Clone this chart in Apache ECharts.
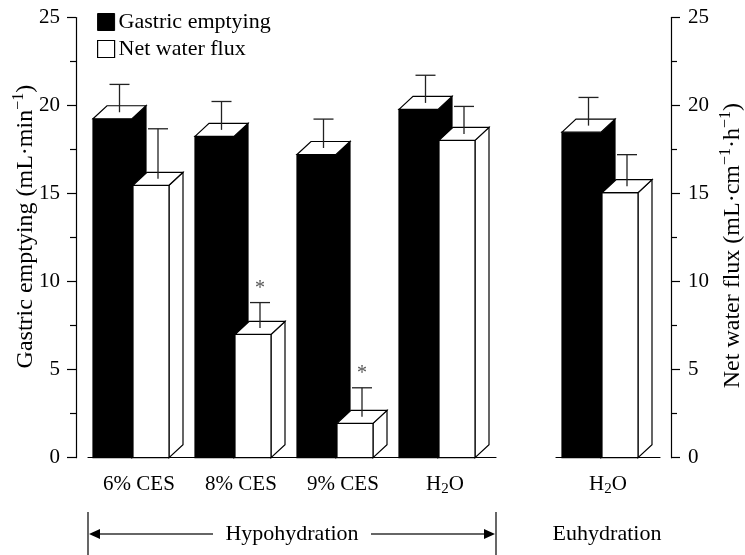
<!DOCTYPE html>
<html><head><meta charset="utf-8">
<script src="https://cdn.jsdelivr.net/npm/echarts@6/dist/echarts.min.js"></script>
<style>html,body{margin:0;padding:0;background:#fff}#c{width:745px;height:555px}</style>
</head><body><div id="c"></div>
<script>
// ---- data ----
const categoriesHypo = ['6% CES', '8% CES', '9% CES', 'H2O'];
const categoriesEu = ['H2O'];
const gastricHypo = [19.25, 18.25, 17.22, 19.78];
const gastricHypoErr = [1.95, 1.98, 2.01, 1.94];
const fluxHypo = [15.47, 7.0, 1.95, 18.02];
const fluxHypoErr = [3.21, 1.81, 2.02, 1.93];
const fluxHypoSig = [0, 1, 1, 0];
const gastricEu = [18.49];
const gastricEuErr = [1.97];
const fluxEu = [15.05];
const fluxEuErr = [2.16];
const fluxEuSig = [0];
const yMin = 0, yMax = 25, yStep = 5;
const groupLabels = ['Hypohydration', 'Euhydration'];

const FONT = 'Liberation Serif';
const chart = echarts.init(document.getElementById('c'));

function rows(vals, errs, sig) {
  return vals.map((v, i) => [i, v, errs[i], sig ? sig[i] : 0]);
}

function makeRender(kind) {
  return function (params, api) {
    const idx = api.value(0), v = api.value(1), se = api.value(2), sig = api.value(3);
    const base = api.coord([idx, 0]);
    const top = api.coord([idx, v]);
    const cap = api.coord([idx, v + se]);
    const c = base[0];
    const dx = 14, dy = 13;
    let x0, w;
    if (kind === 'ge') { x0 = c - 46; w = 39; } else { x0 = c - 6; w = 36; }
    const yb = base[1], yt = top[1];
    const fill = kind === 'ge' ? '#000' : '#fff';
    const st = { stroke: '#000', lineWidth: 1.2 };
    const ch = [];
    ch.push({ type: 'polygon', shape: { points: [[x0 + w, yb], [x0 + w, yt], [x0 + w + dx, yt - dy], [x0 + w + dx, yb - dy]] }, style: Object.assign({ fill }, st) });
    ch.push({ type: 'rect', shape: { x: x0, y: yt, width: w, height: yb - yt }, style: Object.assign({ fill }, st) });
    ch.push({ type: 'polygon', shape: { points: [[x0, yt], [x0 + dx, yt - dy], [x0 + w + dx, yt - dy], [x0 + w, yt]] }, style: Object.assign({ fill: '#fff' }, st) });
    const ex = x0 + w / 2 + dx / 2;
    const ey0 = yt - dy / 2;
    ch.push({ type: 'line', shape: { x1: ex, y1: ey0, x2: ex, y2: cap[1] }, style: { stroke: '#222', lineWidth: 1.3 } });
    ch.push({ type: 'line', shape: { x1: ex - 10, y1: cap[1], x2: ex + 10, y2: cap[1] }, style: { stroke: '#222', lineWidth: 1.3 } });
    if (sig) {
      ch.push({ type: 'text', style: { text: '*', x: ex, y: cap[1] - 14, fontSize: 20, fontFamily: FONT, fill: '#555', align: 'center', verticalAlign: 'middle' } });
    }
    return { type: 'group', children: ch };
  };
}

const labelRich = {
  sub: { fontSize: 15, fontFamily: FONT, color: '#000', verticalAlign: 'bottom', lineHeight: 15 },
  n: { fontSize: 21, fontFamily: FONT, color: '#000', lineHeight: 25 }
};
function catFmt(v) {
  if (v === 'H2O') return '{n|H}{sub|2}{n|O}';
  return '{n|' + v + '}';
}
const supRich = {
  n: { fontSize: 24, fontFamily: FONT, color: '#000', lineHeight: 29 },
  sup: { fontSize: 16, fontFamily: FONT, color: '#000', verticalAlign: 'top', lineHeight: 16 }
};

function xAxis(grid, data) {
  return {
    type: 'category', gridIndex: grid, data,
    axisLine: { lineStyle: { color: '#000', width: 1.2 } },
    axisTick: { length: 10, lineStyle: { color: '#000', width: 1.2 } },
    axisLabel: { margin: 14, interval: 0, formatter: catFmt, rich: labelRich, color: '#000' },
    splitLine: { show: false }
  };
}
function yAxis(grid, pos, offset, name, gap, margin, pad) {
  return {
    type: 'value', gridIndex: grid, position: pos, offset,
    min: yMin, max: yMax, interval: yStep,
    axisLine: { show: true, lineStyle: { color: '#000', width: 1.2 } },
    axisTick: { show: true, length: 9, lineStyle: { color: '#000', width: 1.2 } },
    minorTick: { show: true, splitNumber: 2, length: 6, lineStyle: { color: '#000', width: 1.2 } },
    splitLine: { show: false },
    axisLabel: { margin, fontSize: 21, fontFamily: FONT, color: '#000' },
    name, nameLocation: 'middle', nameGap: gap, nameRotate: 90, nameMoveOverlap: false,
    nameTextStyle: { rich: supRich, color: '#000', padding: pad }
  };
}

const option = {
  animation: false,
  backgroundColor: '#fff',
  textStyle: { fontFamily: FONT },
  grid: [
    { left: 88, right: 249, top: 17.5, bottom: 97.3, outerBoundsMode: 'none', containLabel: false },
    { left: 556, right: 85, top: 17.5, bottom: 97.3, outerBoundsMode: 'none', containLabel: false }
  ],
  legend: {
    orient: 'vertical', left: 97, top: 11, padding: 0, itemGap: 5,
    itemWidth: 17, itemHeight: 17, selectedMode: false,
    textStyle: { fontSize: 22, fontFamily: FONT, color: '#000', padding: [0, 0, 0, -1] },
    data: [
      { name: 'Gastric emptying', icon: 'rect', itemStyle: { color: '#000', borderColor: '#000', borderWidth: 1 } },
      { name: 'Net water flux', icon: 'rect', itemStyle: { color: '#fff', borderColor: '#000', borderWidth: 1.2 } }
    ]
  },
  xAxis: [xAxis(0, categoriesHypo), xAxis(1, categoriesEu)],
  yAxis: [
    yAxis(0, 'left', 12, '{n|Gastric emptying (mL·min}{sup|−1}{n|)}', 36, 16, [0, 0, 0, 22]),
    yAxis(1, 'right', 11, '{n|Net water flux (mL·cm}{sup|−1}{n|·h}{sup|−1}{n|)}', 47, 17, [0, 16, 0, 0])
  ],
  series: [
    { type: 'custom', name: 'Gastric emptying', xAxisIndex: 0, yAxisIndex: 0, renderItem: makeRender('ge'), itemStyle: { color: '#000' }, data: rows(gastricHypo, gastricHypoErr), encode: { x: 0, y: 1 } },
    { type: 'custom', name: 'Gastric emptying', xAxisIndex: 1, yAxisIndex: 1, renderItem: makeRender('ge'), itemStyle: { color: '#000' }, data: rows(gastricEu, gastricEuErr), encode: { x: 0, y: 1 } },
    { type: 'custom', name: 'Net water flux', xAxisIndex: 0, yAxisIndex: 0, renderItem: makeRender('nwf'), itemStyle: { color: '#fff' }, data: rows(fluxHypo, fluxHypoErr, fluxHypoSig), encode: { x: 0, y: 1 } },
    { type: 'custom', name: 'Net water flux', xAxisIndex: 1, yAxisIndex: 1, renderItem: makeRender('nwf'), itemStyle: { color: '#fff' }, data: rows(fluxEu, fluxEuErr, fluxEuSig), encode: { x: 0, y: 1 } }
  ],
  graphic: [
    { type: 'line', shape: { x1: 88, y1: 512, x2: 88, y2: 555 }, style: { stroke: '#000', lineWidth: 1.2 } },
    { type: 'line', shape: { x1: 496, y1: 512, x2: 496, y2: 555 }, style: { stroke: '#000', lineWidth: 1.2 } },
    { type: 'line', shape: { x1: 95, y1: 534, x2: 213, y2: 534 }, style: { stroke: '#333', lineWidth: 1.3 } },
    { type: 'line', shape: { x1: 371, y1: 534, x2: 489, y2: 534 }, style: { stroke: '#333', lineWidth: 1.3 } },
    { type: 'polygon', shape: { points: [[89, 534], [100, 529], [100, 539]] }, style: { fill: '#000' } },
    { type: 'polygon', shape: { points: [[495, 534], [484, 529], [484, 539]] }, style: { fill: '#000' } },
    { type: 'text', style: { text: groupLabels[0], x: 292, y: 534, fontSize: 22, fontFamily: FONT, fill: '#000', align: 'center', verticalAlign: 'middle' } },
    { type: 'text', style: { text: groupLabels[1], x: 607, y: 534, fontSize: 22, fontFamily: FONT, fill: '#000', align: 'center', verticalAlign: 'middle' } }
  ]
};
chart.setOption(option);
</script></body></html>
